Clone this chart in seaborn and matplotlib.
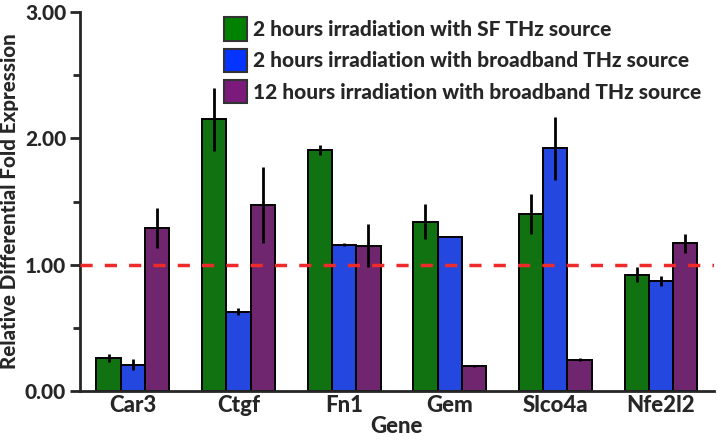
import matplotlib
matplotlib.use("Agg")
import matplotlib.pyplot as plt
import seaborn as sns
import pandas as pd
import numpy as np
from matplotlib.patches import Patch

genes = ["Car3", "Ctgf", "Fn1", "Gem", "Slco4a", "Nfe2l2"]
series = ["2 hours irradiation with SF THz source",
          "2 hours irradiation with broadband THz source",
          "12 hours irradiation with broadband THz source"]
sf_2h = [0.26, 2.15, 1.91, 1.34, 1.40, 0.92]
bb_2h = [0.21, 0.63, 1.16, 1.22, 1.92, 0.87]
bb_12h = [1.29, 1.47, 1.15, 0.20, 0.25, 1.17]
sf_2h_err = [0.03, 0.25, 0.04, 0.14, 0.16, 0.06]
bb_2h_err = [0.045, 0.03, 0.01, 0.0, 0.25, 0.037]
bb_12h_err = [0.16, 0.30, 0.17, 0.005, 0.01, 0.076]
colors = ["#008200", "#0533FF", "#7B1A7A"]

sns.set_style("white")
plt.rcParams['font.family'] = ['Lato', 'DejaVu Sans']
W = "black"
plt.rcParams['font.weight'] = W

df = pd.DataFrame({
    "Gene": genes * 3,
    "Value": sf_2h + bb_2h + bb_12h,
    "Err": sf_2h_err + bb_2h_err + bb_12h_err,
    "Series": [series[0]] * 6 + [series[1]] * 6 + [series[2]] * 6,
})

fig, ax = plt.subplots(figsize=(7.21, 4.4), dpi=100)
fig.subplots_adjust(left=0.111, right=0.99, top=0.973, bottom=0.111)

sns.barplot(data=df, x="Gene", y="Value", hue="Series", palette=colors,
            order=genes, hue_order=series, width=0.69, errorbar=None,
            edgecolor="black", linewidth=1.4, legend=False, ax=ax, zorder=2)

errs = [sf_2h_err, bb_2h_err, bb_12h_err]
vals = [sf_2h, bb_2h, bb_12h]
bars = [p for p in ax.patches]
for si in range(3):
    for gi in range(6):
        p = bars[si * 6 + gi]
        cx = p.get_x() + p.get_width() / 2
        ax.errorbar(cx, vals[si][gi], yerr=errs[si][gi], fmt="none",
                    ecolor="black", elinewidth=2, capsize=0, zorder=3)

ax.axhline(1.0, color="#EE2A2A", linestyle=(0, (3.5, 3.5)), linewidth=2.5, zorder=4)

ax.set_xlim(-0.5, 5.5)
ax.set_ylim(0, 3.0)
ax.set_yticks([0, 1, 2, 3])
ax.set_yticklabels(["0.00", "1.00", "2.00", "3.00"], fontsize=15, fontweight=W)
ax.set_yticks([0.5, 1.5, 2.5], minor=True)
ax.tick_params(axis="y", which="major", direction="out", length=7, width=2, left=True, pad=3)
ax.tick_params(axis="y", which="minor", direction="out", length=5, width=2, left=True)
ax.tick_params(axis="x", length=0, labelsize=16, pad=3)
for lab in ax.get_xticklabels():
    lab.set_fontweight(W)
ax.set_xlabel("Gene", fontsize=16, fontweight=W, labelpad=0)
ax.set_ylabel("Relative Differential Fold Expression", fontsize=14.8, fontweight=W, labelpad=4)

sns.despine(ax=ax)
ax.spines["left"].set_linewidth(2)
ax.spines["bottom"].set_linewidth(2)

handles = [Patch(facecolor=c, edgecolor="#333333", linewidth=1.5) for c in colors]
leg = ax.legend(handles, series, loc="upper right", bbox_to_anchor=(1.01, 1.035),
                frameon=False, prop={"weight": W, "size": 15},
                handlelength=1.1, handleheight=1.35, handletextpad=0.3, labelspacing=0.38)

fig.savefig("out.png", dpi=100)
